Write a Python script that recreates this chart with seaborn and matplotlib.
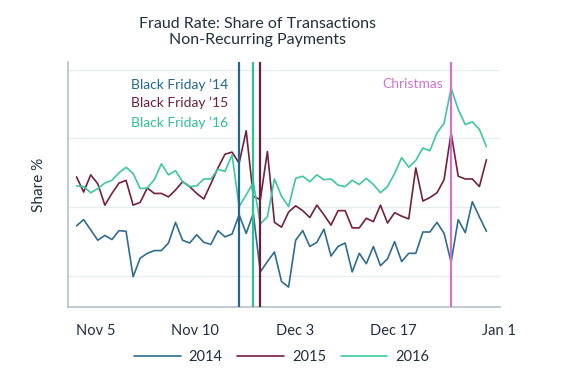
# fraud rate chart, non-recurring payments

import pandas as pd
import numpy as np
import matplotlib.pyplot as plt
import seaborn as sns

# daily share values (no y scale shown, gridlines at 1..4)
share_2014 = [1.73, 1.82, 1.67, 1.52, 1.59, 1.53, 1.66, 1.65, 0.99, 1.26,
              1.33, 1.37, 1.37, 1.48, 1.78, 1.52, 1.48, 1.60, 1.49, 1.46,
              1.66, 1.57, 1.61, 1.89, 1.62, 1.91, 1.06, 1.21, 1.35, 0.92,
              0.84, 1.52, 1.66, 1.43, 1.49, 1.68, 1.29, 1.43, 1.48, 1.06,
              1.33, 1.18, 1.43, 1.15, 1.25, 1.50, 1.21, 1.33, 1.33, 1.64,
              1.64, 1.78, 1.62, 1.20, 1.82, 1.63, 2.08, 1.86, 1.65]
share_2015 = [2.44, 2.22, 2.47, 2.34, 2.03, 2.20, 2.35, 2.39, 2.03, 2.07,
              2.28, 2.20, 2.20, 2.15, 2.25, 2.37, 2.30, 2.20, 2.12, 2.34,
              2.57, 2.77, 2.80, 2.64, 3.11, 2.16, 2.11, 2.81, 1.78, 1.71,
              1.93, 2.02, 1.95, 1.85, 2.03, 1.89, 1.74, 1.95, 1.95, 1.70,
              1.70, 1.84, 1.79, 2.03, 1.77, 1.92, 1.87, 1.83, 2.57, 2.09,
              2.14, 2.21, 2.40, 3.08, 2.45, 2.41, 2.41, 2.30, 2.69]
share_2016 = [2.31, 2.30, 2.21, 2.27, 2.35, 2.39, 2.50, 2.58, 2.49, 2.27,
              2.28, 2.40, 2.63, 2.47, 2.53, 2.37, 2.30, 2.31, 2.41, 2.41,
              2.55, 2.52, 2.76, 2.01, 2.18, 2.36, 1.76, 1.86, 2.41, 2.16,
              2.01, 2.42, 2.45, 2.37, 2.47, 2.40, 2.41, 2.32, 2.30, 2.39,
              2.33, 2.42, 2.33, 2.21, 2.30, 2.49, 2.72, 2.58, 2.68, 2.86,
              2.82, 3.08, 3.22, 3.73, 3.42, 3.20, 3.24, 3.13, 2.88]

years = ['2014', '2015', '2016']
year_colors = ['#2f6d8f', '#74203f', '#3cc8a0']

tick_pos = [2.75, 16.7, 30.95, 44.8, 59.7]
tick_labels = ['Nov 5', 'Nov 10', 'Dec 3', 'Dec 17', 'Jan 1']

events = ['Black Friday \u201914', 'Black Friday \u201915', 'Black Friday \u201916', 'Christmas']
event_day = [23, 26, 25, 53]
event_colors = ['#21678f', '#6e1c3d', '#2fc095', '#cf72d2']

# long form table for seaborn
days = np.arange(len(share_2014))
df = pd.concat([
    pd.DataFrame({'day': days, 'share': vals, 'year': yr})
    for yr, vals in zip(years, [share_2014, share_2015, share_2016])
])

sns.set_theme(style='white')
plt.rcParams['font.family'] = ['Lato', 'DejaVu Sans']

text_col = '#232f3e'
axis_col = '#b7c1ca'

fig = plt.figure(figsize=(5.7, 3.8), dpi=100)
ax = fig.add_axes([0.119, 0.192, 0.758, 0.645])

sns.lineplot(data=df, x='day', y='share', hue='year', palette=year_colors,
             linewidth=1.2, ax=ax)

# event markers
for name, d, c in zip(events, event_day, event_colors):
    ax.axvline(d, color=c, linewidth=1.6, zorder=3)

ax.text(21.4, 3.78, events[0], color=event_colors[0], ha='right', va='center', fontsize=10)
ax.text(21.4, 3.52, events[1], color=event_colors[1], ha='right', va='center', fontsize=10)
ax.text(21.4, 3.23, events[2], color=event_colors[2], ha='right', va='center', fontsize=10)
ax.text(51.8, 3.79, events[3], color=event_colors[3], ha='right', va='center', fontsize=10)

ax.set_xlim(-1.24, 59.9)
ax.set_ylim(0.55, 4.11)
ax.set_yticks([1, 2, 3, 4])
ax.set_yticklabels([])
ax.tick_params(axis='y', length=0)
ax.yaxis.grid(True, color='#e8ecef', linewidth=1)
ax.set_axisbelow(True)

ax.set_xticks(tick_pos)
ax.set_xticklabels(tick_labels)
ax.tick_params(axis='x', length=4, color=axis_col, labelsize=10.5, labelcolor=text_col, pad=8)

ax.set_xlabel('')
ax.set_ylabel('Share %', fontsize=11, color=text_col)
ax.yaxis.set_label_coords(-0.05, 0.5)

sns.despine(ax=ax)
for s in ['left', 'bottom']:
    ax.spines[s].set_color(axis_col)
    ax.spines[s].set_linewidth(1.2)

sns.move_legend(ax, 'center', bbox_to_anchor=(0.495, -0.204), ncol=3, frameon=False,
                title=None, fontsize=10.5, handlelength=3.2, handletextpad=0.55,
                columnspacing=1.0, labelcolor=text_col)

fig.text(0.451, 0.915, 'Fraud Rate: Share of Transactions\nNon-Recurring Payments',
         ha='center', va='center', fontsize=11.5, color=text_col, linespacing=1.2)

plt.savefig('out.png', dpi=100)
